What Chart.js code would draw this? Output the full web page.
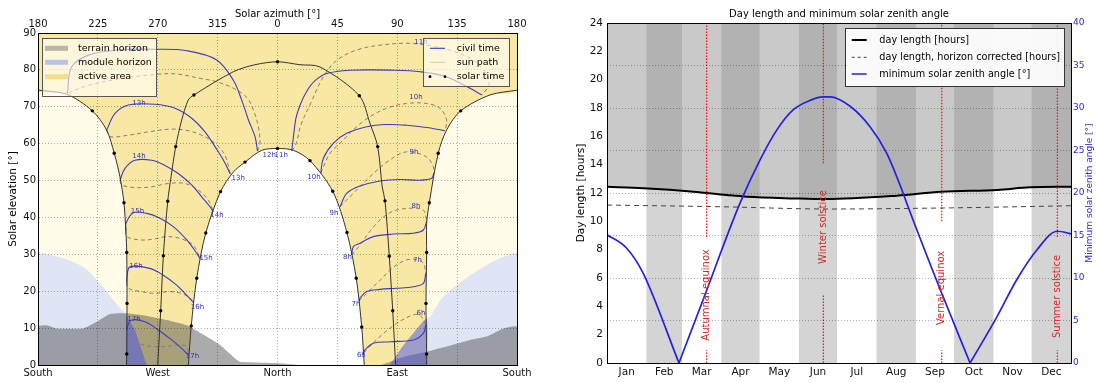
<!DOCTYPE html>
<html>
<head>
<meta charset="utf-8">
<script src="https://cdn.jsdelivr.net/npm/chart.js"></script>
<style>
  html, body { margin:0; padding:0; background:#ffffff; overflow:hidden; }
  #wrapA { position:absolute; left:0; top:0; width:548px; height:383px; }
  #wrapB { position:absolute; left:548px; top:0; width:549px; height:383px; }
</style>
</head>
<body>
<div id="wrapA"><canvas id="sunChart"></canvas></div>
<div id="wrapB"><canvas id="dayChart"></canvas></div>
<script>
const FONT = '"DejaVu Sans", "Liberation Sans", sans-serif';

/* ================= Left panel: sun path diagram (x = azimuth, North = 0, West < 0; y = elevation) ================= */
const azTopLabels = ['180','225','270','315','0','45','90','135','180'];
const azTopValues = [-180,-135,-90,-45,0,45,90,135,180];
const azBottomLabels = ['South','West','North','East','South'];
const azBottomValues = [-180,-90,0,90,180];

const summerPathWest = [[-180,74.5],[-158.4,73.4],[-139.2,68.9],[-128.4,63.7],[-122.7,57.4],[-118.4,51.0],[-115.4,44.0],[-113.9,35.7],[-113.3,30.5],[-113.1,16.7],[-113.3,3.0],[-113.5,0]];
const summerPathEast = [[112.1,0],[112.1,3.0],[111.6,16.7],[112.1,30.5],[112.1,38.4],[114.1,44.0],[120.8,57.4],[127.1,63.7],[137.7,68.9],[159.7,73.2],[180,74.5]];
const equinoxPath = [[-90,0],[-87.8,14.7],[-85.8,29.6],[-82.5,44.4],[-80,51.0],[-76.5,59.2],[-72,66.4],[-67.1,71.8],[-62.8,73.2],[-33.2,79.5],[-16.9,81.4],[0,82.2],[16.9,81.4],[31.9,80.8],[61.5,73.0],[69.5,65.5],[75.3,59.2],[78.7,48.3],[80.8,44.5],[84.0,29.5],[86.6,14.7],[88.8,0]];
const winterPath = [[-67,0],[-64.8,10.6],[-60.7,23.5],[-53.9,35.8],[-42.8,47.0],[-33.2,52.3],[-24.4,55.0],[-11.9,58.2],[0,58.7],[12,58.2],[24.4,55.4],[41.5,47.1],[52.2,35.9],[59.2,23.5],[63.3,10.3],[65.2,0]];

const summerDots = [[-139.2,68.9],[-122.7,57.4],[-115.4,44.0],[-113.3,30.5],[-113.1,16.7],[-113.3,3.0],[137.7,68.9],[120.8,57.4],[114.1,44.0],[112.1,30.5],[111.6,16.7],[112.1,3.0]];
const equinoxDots = [[0,82.2],[-62.8,73.2],[-76.5,59.2],[-82.5,44.4],[-85.8,29.6],[-87.8,14.7],[61.5,73.0],[75.3,59.2],[80.8,44.5],[84.0,29.5],[86.6,14.7]];
const winterDots = [[0,58.7],[-24.4,55.0],[-42.8,47.0],[-53.9,35.8],[-60.7,23.5],[-64.8,10.6],[24.4,55.4],[41.5,47.1],[52.2,35.9],[59.2,23.5],[63.3,10.3]];

const plotBackground = [[-180,0],[-180,90],[180,90],[180,0]];
const moduleHorizonWest = [[-180,0],[-180,29.7],[-166,29.4],[-146,26.6],[-133.4,22.1],[-123.4,17.6],[-117.1,14.9],[-113.9,13.6],[-113.9,0]];
const moduleHorizonEast = [[180,0],[180,29.8],[169.7,29.3],[154.7,26.6],[139.6,23.0],[124.6,18.5],[114.6,13.1],[112.1,12.5],[112.1,0]];
const moduleInBandWest = [[-113.9,0],[-113.9,13.6],[-107.1,9.5],[-98.3,0]];
const moduleInBandEast = [[112.1,0],[112.1,12.5],[102,8.6],[92.1,4.1],[84.5,0]];
const terrainHorizon = [[-180,0],[-180,10.4],[-173.5,10.8],[-166,9.9],[-146,9.9],[-135.9,11.7],[-125.9,13.8],[-113.3,14.0],[-98.3,13.3],[-83.3,12.2],[-68.2,10.8],[-53.2,7.7],[-43.2,5.4],[-33.2,2.2],[-28.2,0.9],[1.9,0.5],[16.9,0],[77,0],[94.5,2.2],[112.1,3.6],[127.2,5.0],[144.7,6.8],[157.2,7.7],[169.7,9.9],[180,10.4],[180,0]];

/* civil-time hour curves: solid = first half of year, dashed = second half */
const h12Solid  = [[-158,73.6],[-154.7,80.8],[-142,84],[-120,85.4],[-90.8,85.6],[-68.2,85.2],[-45.7,82.7],[-33.2,77.2],[-26.9,71.8],[-21.9,66.5],[-16.9,61.9],[-15,58]];
const h12Dashed = [[-15,58],[-13.2,60.1],[-14.4,64.6],[-18,69],[-23,72.5],[-33,75],[-45.7,76.8],[-58.2,77.7],[-75.8,78.9],[-90.8,78.8],[-120,77.5],[-145,75.5],[-158,73.6]];
const h13Solid  = [[-128.4,63.7],[-122.1,68.2],[-112.1,70.5],[-92.1,70.7],[-77.0,69.6],[-64.5,66.9],[-54.5,63.2],[-47.0,59.2],[-40.7,55.6],[-35.5,51.8]];
const h13Dashed = [[-128.4,63.7],[-125.9,61.9],[-112.1,62.3],[-97.1,63.2],[-82.1,63.9],[-69.5,63.7],[-57.0,62.3],[-47.0,60.1],[-39.5,56.9],[-35.5,51.8]];
const h14Solid  = [[-118.4,50.1],[-114.6,53.3],[-107.1,55.5],[-94.6,55.5],[-84.6,54.1],[-74.6,51.9],[-64.5,48.8],[-57.0,45.6],[-50.7,42.9],[-48.2,41.5]];
const h14Dashed = [[-118.4,50.1],[-117.1,48.8],[-107.1,48.1],[-94.6,48.3],[-82.1,49.2],[-69.5,49.2],[-59.5,47.4],[-52.0,44.7],[-48.2,41.5]];
const h15Solid  = [[-113.9,36.5],[-113.9,38.4],[-108.4,41.3],[-98.3,41.1],[-88.3,39.8],[-78.3,37.5],[-68.2,33.9],[-60.7,30.3],[-58.3,28.9]];
const h15Dashed = [[-113.9,36.5],[-113.3,34.8],[-103.3,33.9],[-93.3,34.1],[-83.3,34.8],[-73.3,34.3],[-63.3,32.5],[-58.3,28.9]];
const h16Solid  = [[-113.3,22.5],[-113.1,23.9],[-110.9,26.6],[-96.1,26.2],[-86.1,24.4],[-76.0,21.7],[-68.5,19.0],[-62.9,16.8]];
const h16Dashed = [[-113.3,22.5],[-112.1,20.8],[-102.1,19.9],[-92.1,19.4],[-82.1,19.9],[-72.0,19.4],[-65.8,18.1],[-62.9,16.8]];
const h17Solid  = [[-113.2,9.5],[-112.9,10.4],[-109.6,12.2],[-99.6,11.7],[-89.6,9.5],[-79.5,6.8],[-70.8,4.1],[-67.1,2.7]];
const h17Dashed = [[-113.2,9.5],[-112.1,7.7],[-104.6,5.9],[-94.6,5.0],[-84.6,5.0],[-74.6,5.4],[-68.2,5.0],[-67.1,2.7]];
const h11Solid  = [[10.7,58],[12.2,62.5],[13.8,66.8],[17,70.5],[22,74.2],[28,77],[37,79],[54.5,79.9],[88.3,79.9],[107.1,79.5],[127.2,78.1],[144.7,75.0],[153.5,73.2]];
const h11Dashed = [[10.7,58],[14,60],[17.5,65],[25,71],[34.4,78.1],[44.5,82.6],[59.5,85.4],[77.1,86.7],[99.6,87.2],[122,86],[143,83.5],[156,79.5],[159,76],[153.5,73.2]];
const h10Solid  = [[32.5,52],[34.4,56.0],[41.9,60.1],[52.0,62.8],[67.0,64.6],[82.0,65.2],[97.1,65.0],[112.1,64.4],[125.9,63.5]];
const h10Dashed = [[32.5,52],[39.5,57.4],[49.5,61.0],[59.5,64.6],[69.5,67.3],[82.0,69.6],[97.1,70.9],[112.1,70.9],[122.1,69.6],[127.1,66.4],[125.9,63.5]];
const h9Solid   = [[47,42.9],[52.0,46.5],[62.0,48.5],[77.0,49.9],[92.1,50.3],[107.1,50.1],[115.9,50.6],[117.5,52]];
const h9Dashed  = [[47,42.9],[56.9,46.5],[72.0,51.9],[84.5,55.6],[97.1,57.8],[112.1,56.4],[117.1,53.7],[117.5,52]];
const h8Solid   = [[55.8,29.8],[57.0,32.1],[62.0,33.0],[72.0,34.8],[87.0,35.5],[102.1,35.7],[109.6,36.6],[112.2,39.1]];
const h8Dashed  = [[55.8,29.8],[63,33],[70,36.5],[77,39.3],[84,41.2],[89.6,42.0],[100,42.5],[109.6,42.0],[112.2,39.1]];
const h7Solid   = [[61.2,17.3],[62.0,18.1],[67.0,19.9],[77.0,20.5],[89.6,20.8],[102.1,21.2],[109.6,22.1],[111.4,24.8]];
const h7Dashed  = [[61.2,17.3],[66,19],[72.0,21.2],[78,23.3],[84.5,25.7],[91,27.5],[97.1,28.5],[104,28.6],[109.6,27.6],[111.4,24.8]];
const h6Solid   = [[64.8,3.3],[65.8,4.1],[72.0,5.9],[84.5,6.3],[102.1,6.8],[109.6,8.6],[111.4,10.8]];
const h6Dashed  = [[64.8,3.3],[77.0,7.7],[89.6,11.3],[102.1,13.6],[107,13.5],[110.9,11.3],[111.4,10.8]];

const solidHourCurves = [h12Solid,h13Solid,h14Solid,h15Solid,h16Solid,h17Solid,h11Solid,h10Solid,h9Solid,h8Solid,h7Solid,h6Solid];
const dashedHourCurves = [h12Dashed,h13Dashed,h14Dashed,h15Dashed,h16Dashed,h17Dashed,h11Dashed,h10Dashed,h9Dashed,h8Dashed,h7Dashed,h6Dashed];

const hourLabels = [['13h',-104.1,71.0],['14h',-104.1,56.5],['15h',-105.2,41.6],['16h',-106.4,26.8],['17h',-107.9,12.3],
  ['13h',-29.5,50.6],['14h',-45.5,40.6],['15h',-53.7,28.9],['16h',-60.1,15.8],['17h',-63.9,2.4],
  ['12h',-6.2,56.9],['11h',2.8,56.9],
  ['10h',27.4,51.0],['9h',42.4,41.1],['8h',52.6,29.2],['7h',59.0,16.5],['6h',63.0,2.7],
  ['11h',107.8,87.6],['10h',104.1,72.7],['9h',102.6,57.8],['8h',104.1,43.1],['7h',105.2,28.5],['6h',107.8,14.0]];

const leftLegendA = ['terrain horizon','module horizon','active area'];
const leftLegendB = ['civil time','sun path','solar time'];
const legendRowY = [48.3, 62.3, 76.7];

/* ================= Right panel: day length and minimum solar zenith angle ================= */
const months = ['Jan','Feb','Mar','Apr','May','Jun','Jul','Aug','Sep','Oct','Nov','Dec'];
const monthDays = [31,28,31,30,31,30,31,31,30,31,30,31];
const dayLengthDay   = [0,28.6,68,94,110,147,172,228,263,307,333,365];
const dayLengthHours = [12.44,12.33,12.09,11.86,11.74,11.62,11.57,11.81,12.09,12.22,12.4,12.44];
const horizonDay   = [0,89,175,270,365];
const horizonHours = [11.15,11.03,10.87,10.95,11.1];
const zenithDay = [0,15.5,28.3,56.6,75.5,104.6,120.4,133.5,146.6,159.7,170.2,175.5,191.2,206.9,220,232.9,235.8,263.3,285.6,306.6,322.3,338.1,354.3,365];
const zenithDeg = [15.1,13.5,10.6,0,7.4,18.8,23.9,27.4,29.8,30.9,31.3,31.3,30.2,27.8,24.7,20.0,18.8,8.2,0,5.4,9.8,13.3,15.5,15.2];
const eventNames = ['Autumnal equinox','Winter solstice','Vernal equinox','Summer solstice'];
const eventDays = [78.4,170.2,263.3,354.3];
const eventTextHours = [4.8,9.6,5.3,4.7];
const eventLineLow = [0.9,4.8,0.9,0.9];
const eventLineHigh = [8.9,14.1,10.0,8.9];
const rightLegend = ['day length [hours]','day length, horizon corrected [hours]','minimum solar zenith angle [\u00b0]'];

/* ================= helpers ================= */
Chart.defaults.font.family = FONT;
Chart.defaults.color = '#222';
const P = arr => arr.map(p => ({x: p[0], y: p[1]}));
const poly = (pts, color, order, tension) => ({data: P(pts), showLine: true, fill: 'shape', backgroundColor: color,
  borderColor: 'rgba(0,0,0,0)', borderWidth: 0, pointRadius: 0, tension: tension || 0, order});
const curve = (pts, color, width, dash, order, tension) => ({data: P(pts), showLine: true, fill: false, borderColor: color,
  borderWidth: width, borderDash: dash || [], pointRadius: 0, tension: tension === undefined ? 0.35 : tension, order});
const dots = (pts, order) => ({data: P(pts), showLine: false, pointRadius: 1.7, pointBackgroundColor: '#000', pointBorderWidth: 0, order});

/* ================= Left chart ================= */
const leftDatasets = [
  poly(plotBackground, '#fffbe8', 100),
  poly([[-180,90]].concat(summerPathWest, summerPathEast, [[180,90]]), '#f9e8a4', 99, 0.3),
  poly(winterPath, '#ffffff', 98, 0.3),
  poly(moduleHorizonWest, '#dfe5f5', 97, 0.3),
  poly(moduleHorizonEast, '#dfe5f5', 96, 0.3),
  poly(terrainHorizon, 'rgba(80,80,80,0.48)', 95, 0.15),
  poly(moduleInBandWest, 'rgba(70,80,235,0.5)', 94, 0),
  poly(moduleInBandEast, 'rgba(70,80,235,0.5)', 93, 0.2)
];
dashedHourCurves.forEach(c => leftDatasets.push(curve(c, '#8a7f6c', 1, [4,3], 30)));
solidHourCurves.forEach(c => leftDatasets.push(curve(c, '#3c3cc4', 1.1, [], 29)));
[summerPathWest, summerPathEast, equinoxPath, winterPath].forEach(c => leftDatasets.push(curve(c, '#333333', 1, [], 20, 0.3)));
[summerDots, equinoxDots, winterDots].forEach(c => leftDatasets.push(dots(c, 10)));

const sunText = {
  id: 'sunText',
  afterDatasetsDraw(chart) {
    const {ctx, scales: {x, y}} = chart;
    ctx.save();
    ctx.font = '7px ' + FONT; ctx.fillStyle = '#3030c0'; ctx.textAlign = 'center'; ctx.textBaseline = 'middle';
    hourLabels.forEach(l => ctx.fillText(l[0], x.getPixelForValue(l[1]), y.getPixelForValue(l[2])));
    ctx.restore();
  },
  afterDraw(chart) {
    const ctx = chart.ctx, ca = chart.chartArea;
    ctx.save();
    ctx.fillStyle = '#000'; ctx.textAlign = 'center'; ctx.textBaseline = 'middle';
    ctx.font = '10px ' + FONT;
    ctx.fillText('Solar azimuth [\u00b0]', (ca.left + ca.right) / 2, 14);
    ctx.save(); ctx.translate(13, (ca.top + ca.bottom) / 2); ctx.rotate(-Math.PI / 2);
    ctx.font = '10.5px ' + FONT; ctx.fillText('Solar elevation [\u00b0]', 0, 0); ctx.restore();
    // legend A
    ctx.fillStyle = 'rgba(255,255,255,0.6)'; ctx.fillRect(42, 38, 115, 59);
    ctx.strokeStyle = '#555'; ctx.lineWidth = 1; ctx.strokeRect(42.5, 38.5, 114, 58);
    const swA = ['#bab5a6', '#b8c3e9', '#f6dd88'];
    ctx.font = '9.5px ' + FONT; ctx.textAlign = 'left';
    leftLegendA.forEach((t, i) => {
      ctx.fillStyle = swA[i]; ctx.fillRect(45, legendRowY[i] - 2.5, 23, 5);
      ctx.fillStyle = '#000'; ctx.fillText(t, 78, legendRowY[i]);
    });
    // legend B
    ctx.fillStyle = 'rgba(255,255,255,0.6)'; ctx.fillRect(423, 38, 87, 49);
    ctx.strokeStyle = '#555'; ctx.strokeRect(423.5, 38.5, 86, 48);
    leftLegendB.forEach((t, i) => {
      const yy = legendRowY[i];
      if (i === 0) { ctx.strokeStyle = '#3c3cc4'; ctx.lineWidth = 1.1; ctx.beginPath(); ctx.moveTo(430, yy); ctx.lineTo(445, yy); ctx.stroke(); }
      if (i === 1) { ctx.strokeStyle = '#d8cc9e'; ctx.lineWidth = 1; ctx.beginPath(); ctx.moveTo(430, yy); ctx.lineTo(445, yy); ctx.stroke(); }
      if (i === 2) { ctx.fillStyle = '#000'; [430, 445].forEach(px => { ctx.beginPath(); ctx.arc(px, yy, 1.4, 0, Math.PI * 2); ctx.fill(); }); }
      ctx.fillStyle = '#000'; ctx.fillText(t, 456.7, yy);
    });
    ctx.restore();
  }
};

const gridDotted = {display: true, color: 'rgba(0,0,0,0.32)', lineWidth: 1, drawTicks: false, z: 1};
new Chart(document.getElementById('sunChart'), {
  type: 'scatter',
  data: {datasets: leftDatasets},
  options: {
    responsive: true, maintainAspectRatio: false, animation: false, devicePixelRatio: 1, events: [],
    layout: {padding: 0},
    plugins: {legend: {display: false}, tooltip: {enabled: false}},
    scales: {
      x: {type: 'linear', position: 'bottom', min: -180, max: 180,
        afterBuildTicks: s => { s.ticks = azBottomValues.map(v => ({value: v})); },
        ticks: {callback: (v, i) => azBottomLabels[i], autoSkip: false, maxRotation: 0, padding: 2, font: {size: 10}, color: '#111'},
        grid: {display: false, drawTicks: false}, border: {display: true, color: '#000', width: 1, z: 2},
        afterFit: s => { s.height = 18; }},
      x2: {type: 'linear', position: 'top', min: -180, max: 180,
        afterBuildTicks: s => { s.ticks = azTopValues.map(v => ({value: v})); },
        ticks: {callback: (v, i) => azTopLabels[i], autoSkip: false, maxRotation: 0, padding: 3, font: {size: 10}, color: '#111'},
        grid: gridDotted, border: {display: true, color: '#000', width: 1, dash: [1, 2], z: 2},
        afterFit: s => { s.height = 33; }},
      y: {type: 'linear', position: 'left', min: 0, max: 90,
        ticks: {stepSize: 10, padding: 2, font: {size: 10}, color: '#111'},
        grid: gridDotted, border: {display: true, color: '#000', width: 1, dash: [1, 2], z: 2},
        afterFit: s => { s.width = 38; }},
      y2: {type: 'linear', position: 'right', min: 0, max: 90,
        ticks: {display: false}, grid: {display: false, drawTicks: false},
        border: {display: true, color: '#000', width: 1, z: 2},
        afterFit: s => { s.width = 31; }}
    }
  },
  plugins: [sunText]
});

/* ================= Right chart ================= */
const monthStart = [0];
monthDays.forEach((d, i) => monthStart.push(monthStart[i] + d));
const monthMid = monthDays.map((d, i) => monthStart[i] + d / 2);
const stripePts = monthDays.map((d, i) => [monthStart[i], i % 2 ? 24 : 0]).concat([[365, 24]]);

const rightDatasets = [
  {data: P(stripePts), showLine: true, stepped: true, fill: 'origin', backgroundColor: '#d4d4d4',
   borderColor: 'rgba(0,0,0,0)', borderWidth: 0, pointRadius: 0, order: 50},
  {data: dayLengthDay.map((d, i) => ({x: d, y: dayLengthHours[i]})), showLine: true, fill: 'end',
   backgroundColor: 'rgba(142,142,142,0.48)', borderColor: '#000', borderWidth: 2, pointRadius: 0,
   cubicInterpolationMode: 'monotone', order: 40},
  {data: horizonDay.map((d, i) => ({x: d, y: horizonHours[i]})), showLine: true, fill: false,
   borderColor: '#444', borderWidth: 1, borderDash: [5, 4], pointRadius: 0, cubicInterpolationMode: 'monotone', order: 39}
];
eventDays.forEach((d, i) => rightDatasets.push({
  data: [{x: d, y: 0}, {x: d, y: eventLineLow[i]}, {x: d, y: null}, {x: d, y: eventLineHigh[i]}, {x: d, y: 24}],
  showLine: true, spanGaps: false, fill: false, borderColor: '#e81c1c', borderWidth: 1.3, borderDash: [1.5, 1.5],
  pointRadius: 0, order: 30}));
const zeroIdx = zenithDeg.map((v, i) => v === 0 ? i : -1).filter(i => i >= 0);
const cuts = [0].concat(zeroIdx, [zenithDeg.length - 1]);
for (let k = 0; k < cuts.length - 1; k++) {
  const pts = [];
  for (let i = cuts[k]; i <= cuts[k + 1]; i++) pts.push({x: zenithDay[i], y: zenithDeg[i]});
  rightDatasets.push({data: pts, yAxisID: 'y2', showLine: true, fill: false, borderColor: '#2222e0', borderWidth: 1.7,
    pointRadius: 0, cubicInterpolationMode: 'monotone', order: 20});
}

const dayText = {
  id: 'dayText',
  afterDatasetsDraw(chart) {
    const {ctx, scales: {x, y}} = chart;
    ctx.save();
    ctx.fillStyle = '#d02828'; ctx.font = '10px ' + FONT; ctx.textAlign = 'center'; ctx.textBaseline = 'middle';
    eventNames.forEach((n, i) => {
      ctx.save(); ctx.translate(x.getPixelForValue(eventDays[i]), y.getPixelForValue(eventTextHours[i]));
      ctx.rotate(-Math.PI / 2); ctx.fillText(n, 0, 0); ctx.restore();
    });
    ctx.restore();
  },
  afterDraw(chart) {
    const ctx = chart.ctx, ca = chart.chartArea;
    ctx.save();
    ctx.textAlign = 'center'; ctx.textBaseline = 'middle'; ctx.fillStyle = '#000';
    ctx.font = '10px ' + FONT;
    ctx.fillText('Day length and minimum solar zenith angle', (ca.left + ca.right) / 2, 14);
    ctx.save(); ctx.translate(33, (ca.top + ca.bottom) / 2); ctx.rotate(-Math.PI / 2);
    ctx.font = '10.5px ' + FONT; ctx.fillText('Day length [hours]', 0, 0); ctx.restore();
    ctx.save(); ctx.translate(542, (ca.top + ca.bottom) / 2); ctx.rotate(-Math.PI / 2);
    ctx.fillStyle = '#2b2bd0'; ctx.font = '9px ' + FONT; ctx.fillText('Minimum solar zenith angle [\u00b0]', 0, 0); ctx.restore();
    // legend
    ctx.fillStyle = 'rgba(255,255,255,0.92)'; ctx.fillRect(297, 28, 220, 59);
    ctx.strokeStyle = '#333'; ctx.lineWidth = 1; ctx.strokeRect(297.5, 28.5, 219, 58);
    const ly = [40, 57.3, 74];
    ctx.font = '9.7px ' + FONT; ctx.textAlign = 'left';
    rightLegend.forEach((t, i) => {
      ctx.save();
      if (i === 0) { ctx.strokeStyle = '#000'; ctx.lineWidth = 2; }
      if (i === 1) { ctx.strokeStyle = '#444'; ctx.lineWidth = 1; ctx.setLineDash([3, 3]); }
      if (i === 2) { ctx.strokeStyle = '#2222e0'; ctx.lineWidth = 1.5; }
      ctx.beginPath(); ctx.moveTo(303.7, ly[i]); ctx.lineTo(318.7, ly[i]); ctx.stroke();
      ctx.restore();
      ctx.fillStyle = '#000'; ctx.fillText(t, 331.3, ly[i]);
    });
    ctx.restore();
  }
};

new Chart(document.getElementById('dayChart'), {
  type: 'scatter',
  data: {datasets: rightDatasets},
  options: {
    responsive: true, maintainAspectRatio: false, animation: false, devicePixelRatio: 1, events: [],
    layout: {padding: 0},
    plugins: {legend: {display: false}, tooltip: {enabled: false}},
    scales: {
      x: {type: 'linear', position: 'bottom', min: 0, max: 365,
        afterBuildTicks: s => { s.ticks = monthMid.map(v => ({value: v})); },
        ticks: {callback: (v, i) => months[i], autoSkip: false, maxRotation: 0, padding: 3, font: {size: 10.5}, color: '#111'},
        grid: {display: false, drawTicks: false}, border: {display: true, color: '#000', width: 1, z: 2},
        afterFit: s => { s.height = 20; }},
      x2: {type: 'linear', position: 'top', min: 0, max: 365, ticks: {display: false},
        grid: {display: false, drawTicks: false}, border: {display: true, color: '#000', width: 1, z: 2},
        afterFit: s => { s.height = 23; }},
      y: {type: 'linear', position: 'left', min: 0, max: 24,
        ticks: {stepSize: 2, padding: 4, font: {size: 10.5}, color: '#111'},
        grid: {display: false, drawTicks: false}, border: {display: true, color: '#000', width: 1, z: 2},
        afterFit: s => { s.width = 59; }},
      y2: {type: 'linear', position: 'right', min: 0, max: 40,
        ticks: {stepSize: 5, padding: 2, font: {size: 9}, color: '#2b2bd0'},
        grid: {display: true, color: 'rgba(0,0,0,0.32)', lineWidth: 1, drawTicks: false, z: 1},
        border: {display: true, color: '#000', width: 1, dash: [1, 2], z: 2},
        afterFit: s => { s.width = 26; }}
    }
  },
  plugins: [dayText]
});
</script>
</body>
</html>
